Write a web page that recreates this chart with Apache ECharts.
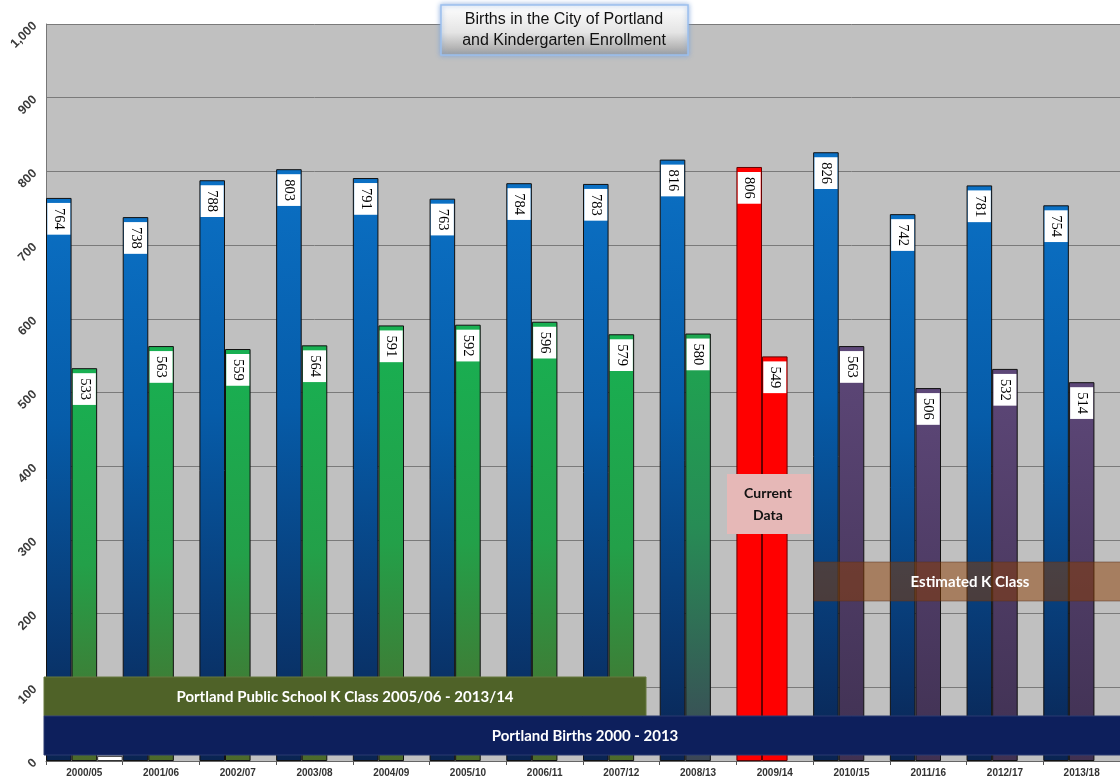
<!DOCTYPE html>
<html><head><meta charset="utf-8">
<script src="https://cdn.jsdelivr.net/npm/echarts@6/dist/echarts.min.js"></script>
<style>html,body{margin:0;padding:0;background:#fff}#c{width:1120px;height:781px}</style>
</head><body><div id="c"></div>
<script>
const categories = ['2000/05','2001/06','2002/07','2003/08','2004/09','2005/10','2006/11','2007/12','2008/13','2009/14','2010/15','2011/16','2012/17','2013/18'];
const births = [764,738,788,803,791,763,784,783,816,806,826,742,781,754];
const kClass = [533,563,559,564,591,592,596,579,580,549,563,506,532,514];
const extra = [7,'-','-','-','-','-','-','-','-','-','-','-','-','-'];
const currentIndex = 9;
const estimateStart = 10;
const transitionIndex = 8;

const G = echarts.graphic.LinearGradient;
const blueGrad = () => new G(0,0,0,1,[{offset:0,color:'#0b70c4'},{offset:0.4,color:'#065ca9'},{offset:1,color:'#0a2452'}]);
const greenGrad = () => new G(0,0,0,1,[{offset:0,color:'#18b052'},{offset:0.5,color:'#23a049'},{offset:1,color:'#4d6a2b'}]);
const transGrad = () => new G(0,0,0,1,[{offset:0,color:'#1ea650'},{offset:0.45,color:'#278c55'},{offset:1,color:'#3c4656'}]);
const purpleGrad = () => new G(0,0,0,1,[{offset:0,color:'#5d4778'},{offset:1,color:'#403152'}]);

const labelStyle = {
  show: true, position: 'insideTop', distance: 5, rotate: -90,
  align: 'left', verticalAlign: 'middle',
  backgroundColor: '#ffffff', padding: [4,5,4,5],
  fontFamily: 'Liberation Serif, Times New Roman, serif', fontSize: 14.5, color: '#000'
};

const birthData = births.map((v,i) => ({
  value: v,
  itemStyle: { color: i === currentIndex ? '#ff0000' : blueGrad(), borderColor: i === currentIndex ? '#600' : '#111' }
}));
const kData = kClass.map((v,i) => {
  let c;
  if (i === currentIndex) c = '#ff0000';
  else if (i >= estimateStart) c = purpleGrad();
  else if (i === transitionIndex) c = transGrad();
  else c = greenGrad();
  return { value: v, itemStyle: { color: c, borderColor: i === currentIndex ? '#600' : '#111' } };
});

const chart = echarts.init(document.getElementById('c'), null, {renderer:'canvas'});
const txt = (x,y,text,opts) => ({type:'text', z:110, x, y, style: Object.assign({text, fill:'#fff', font:'bold 15px Lato, "Open Sans", sans-serif', align:'center', verticalAlign:'middle'}, opts||{})});

chart.setOption({
  backgroundColor: '#ffffff',
  animation: false,
  grid: { left: 46, top: 24, width: 1080, height: 737, show: true, backgroundColor: '#c0c0c0', borderWidth: 0 },
  xAxis: {
    type: 'category', data: categories,
    axisLine: { lineStyle: { color: '#666', width: 1 } },
    axisTick: { show: true, length: 4, lineStyle: { color: '#555' } },
    axisLabel: { margin: 7, fontFamily: 'Arial, Liberation Sans, sans-serif', fontWeight: 'bold', fontSize: 10, color: '#333', interval: 0 }
  },
  yAxis: {
    type: 'value', min: 0, max: 1000, interval: 100,
    axisLine: { show: true, lineStyle: { color: '#777' } },
    axisTick: { show: false },
    splitLine: { lineStyle: { color: '#7a7a7a', width: 1 } },
    axisLabel: { rotate: 45, margin: 11, fontFamily: 'Arial, Liberation Sans, sans-serif', fontWeight: 'bold', fontSize: 12.5, color: '#3a3a3a',
      formatter: v => v.toLocaleString('en-US') }
  },
  series: [
    { type: 'bar', name: 'Births', data: birthData, barGap: '0%', barCategoryGap: '0%',
      itemStyle: { borderWidth: 1 }, label: labelStyle },
    { type: 'bar', name: 'K Class', data: kData, barGap: '0%', barCategoryGap: '0%',
      itemStyle: { borderWidth: 1 }, label: labelStyle },
    { type: 'bar', name: 'Other', data: extra, barGap: '0%', barCategoryGap: '0%',
      itemStyle: { color: '#ffffff', borderColor: '#333', borderWidth: 1 } }
  ],
  graphic: [
    { type: 'rect', z: 100, shape: { x: 44, y: 677, width: 602, height: 39 },
      style: { fill: '#4f6228', stroke: '#66783f', lineWidth: 1 } },
    txt(345, 697, 'Portland Public School K Class 2005/06 - 2013/14'),
    { type: 'rect', z: 100, shape: { x: 44, y: 716, width: 1090, height: 39 },
      style: { fill: '#0d1f5c', stroke: '#2a3a70', lineWidth: 1 } },
    txt(585, 736, 'Portland Births 2000 - 2013'),
    { type: 'rect', z: 100, shape: { x: 727, y: 474, width: 84, height: 60 },
      style: { fill: '#e6b8b7' } },
    txt(768, 493, 'Current', { fill: '#111', font: 'bold 14px Lato, "Open Sans", sans-serif' }),
    txt(768, 515, 'Data', { fill: '#111', font: 'bold 14px Lato, "Open Sans", sans-serif' }),
    { type: 'rect', z: 100, shape: { x: 814, y: 562, width: 320, height: 39 },
      style: { fill: 'rgba(140,60,0,0.5)', stroke: 'rgba(90,50,30,0.5)', lineWidth: 1 } },
    txt(970, 582, 'Estimated K Class', { font: 'bold 15px Lato, "Open Sans", sans-serif' }),
    { type: 'rect', z: 100, shape: { x: 441, y: 5, width: 247, height: 50 },
      style: { fill: new G(0,0,0,1,[{offset:0,color:'#ffffff'},{offset:0.55,color:'#e4e4e4'},{offset:1,color:'#9c9c9c'}]),
        stroke: '#9cc0ee', lineWidth: 1.5, shadowBlur: 5, shadowColor: 'rgba(120,160,220,0.8)' } },
    txt(564, 20, 'Births in the City of Portland', { fill: '#111', font: '16px Arial, "Liberation Sans", sans-serif' }),
    txt(564, 41, 'and Kindergarten Enrollment', { fill: '#111', font: '16px Arial, "Liberation Sans", sans-serif' })
  ]
});
</script></body></html>
